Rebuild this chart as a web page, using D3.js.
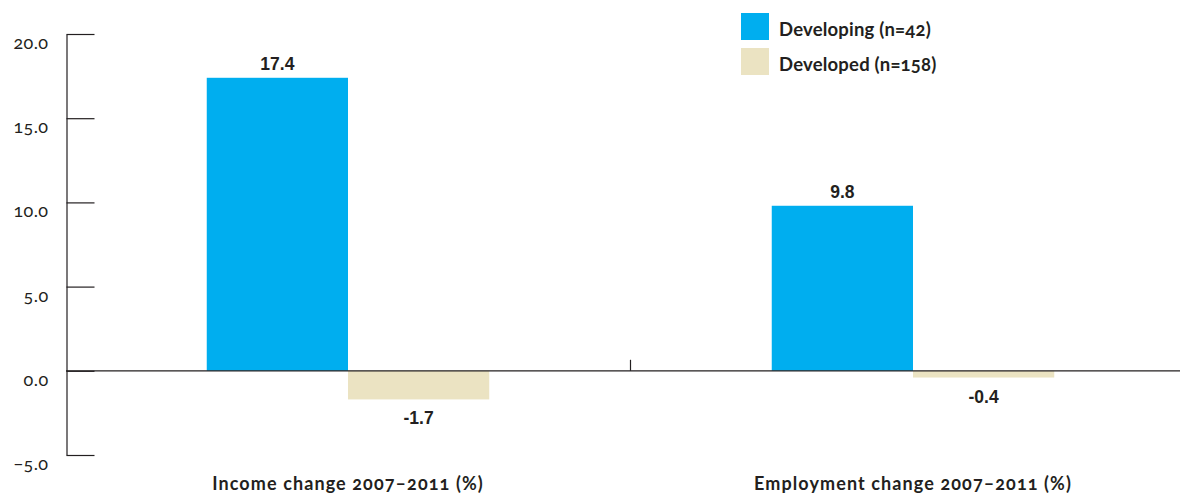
<!DOCTYPE html>
<html>
<head>
<meta charset="utf-8">
<script src="https://cdn.jsdelivr.net/npm/d3@7"></script>
<style>
  html, body { margin: 0; padding: 0; background: #fff; }
  svg { display: block; }
  .sans { font-family: Lato, "Open Sans", sans-serif; font-feature-settings: "onum" 1; font-variant-numeric: oldstyle-nums; }
  .val { font-family: "Liberation Sans", Arial, sans-serif; font-weight: bold; }
</style>
</head>
<body>
<svg id="chart" width="1180" height="495"></svg>
<script>
// Change in income and employment, developing vs developed
const categories = ["Income change 2007\u20132011 (%)", "Employment change 2007\u20132011 (%)"];
const series = ["Developing (n=42)", "Developed (n=158)"];
const developing = [17.4, 9.8];
const developed = [-1.7, -0.4];
const yTicks = [-5, 0, 5, 10, 15, 20];

const colors = ["#00aeef", "#ebe3c2"];
const ink = "#231f20";
const values = [developing, developed];

const svg = d3.select("#chart");
const W = 1180;

const y = d3.scaleLinear().domain([-5, 20]).range([455, 34]);
const x0 = d3.scaleBand().domain(categories).range([65.5, 1195.5]).paddingInner(0).paddingOuter(0);
const x1 = d3.scaleBand().domain(series).range([0, x0.bandwidth()]).paddingInner(0).paddingOuter(1);

// bars
const rows = categories.map((c, i) => ({ cat: c, vals: series.map((s, j) => ({ s, j, v: values[j][i] })) }));
const g = svg.append("g");
const grp = g.selectAll("g.grp").data(rows).join("g")
  .attr("class", "grp")
  .attr("transform", d => `translate(${x0(d.cat)},0)`);

grp.selectAll("rect").data(d => d.vals).join("rect")
  .attr("x", d => x1(d.s))
  .attr("width", x1.bandwidth())
  .attr("y", d => y(Math.max(0, d.v)))
  .attr("height", d => Math.abs(y(d.v) - y(0)))
  .attr("fill", d => colors[d.j]);

grp.selectAll("text.val").data(d => d.vals).join("text")
  .attr("class", "val")
  .attr("x", d => x1(d.s) + x1.bandwidth() / 2)
  .attr("y", d => d.v >= 0 ? y(d.v) - 8 : y(d.v) + 25)
  .attr("text-anchor", "middle")
  .attr("font-size", 17.5)
  .attr("fill", ink)
  .text(d => d.v.toFixed(1));

// y axis
const yAxis = d3.axisLeft(y)
  .tickValues(yTicks)
  .tickSize(-28)
  .tickSizeOuter(0)
  .tickPadding(18)
  .tickFormat(d3.format(".1f"));
const ya = svg.append("g").attr("transform", "translate(66.5,0)").call(yAxis);
ya.select(".domain").attr("stroke", ink).attr("stroke-width", 1.2);
ya.selectAll(".tick line").attr("stroke", ink).attr("stroke-width", 1.2);
ya.selectAll(".tick text")
  .attr("class", "sans")
  .attr("font-size", 18)
  .attr("letter-spacing", 0.4)
  .attr("fill", ink)
  .attr("dy", "0.8em");

// zero line with category boundary ticks
const xa = svg.append("g").attr("transform", `translate(0,${y(0)})`);
xa.append("line")
  .attr("x1", 66).attr("x2", W)
  .attr("y1", 0).attr("y2", 0)
  .attr("stroke", ink).attr("stroke-width", 1.2);
xa.selectAll("line.bnd").data(categories.slice(1)).join("line")
  .attr("class", "bnd")
  .attr("x1", d => Math.floor(x0(d)) + 0.5)
  .attr("x2", d => Math.floor(x0(d)) + 0.5)
  .attr("y1", 0).attr("y2", -11)
  .attr("stroke", ink).attr("stroke-width", 1.2);

// category labels
svg.selectAll("text.cat").data(categories).join("text")
  .attr("class", "cat sans")
  .attr("x", d => x0(d) + x0.bandwidth() / 2)
  .attr("y", 490)
  .attr("text-anchor", "middle")
  .attr("font-size", 18)
  .attr("letter-spacing", 1.1)
  .attr("font-weight", "bold")
  .attr("fill", ink)
  .text(d => d);

// legend
const leg = svg.append("g").attr("transform", "translate(741,13)");
const li = leg.selectAll("g").data(series).join("g")
  .attr("transform", (d, i) => `translate(0,${i * 35})`);
li.append("rect").attr("width", 28).attr("height", 27).attr("fill", (d, i) => colors[i]);
li.append("text")
  .attr("class", "sans")
  .attr("x", 38).attr("y", 22.5)
  .attr("font-size", 18.5)
  .attr("letter-spacing", 0.2)
  .attr("font-weight", "bold")
  .attr("fill", ink)
  .text(d => d);
</script>
</body>
</html>
